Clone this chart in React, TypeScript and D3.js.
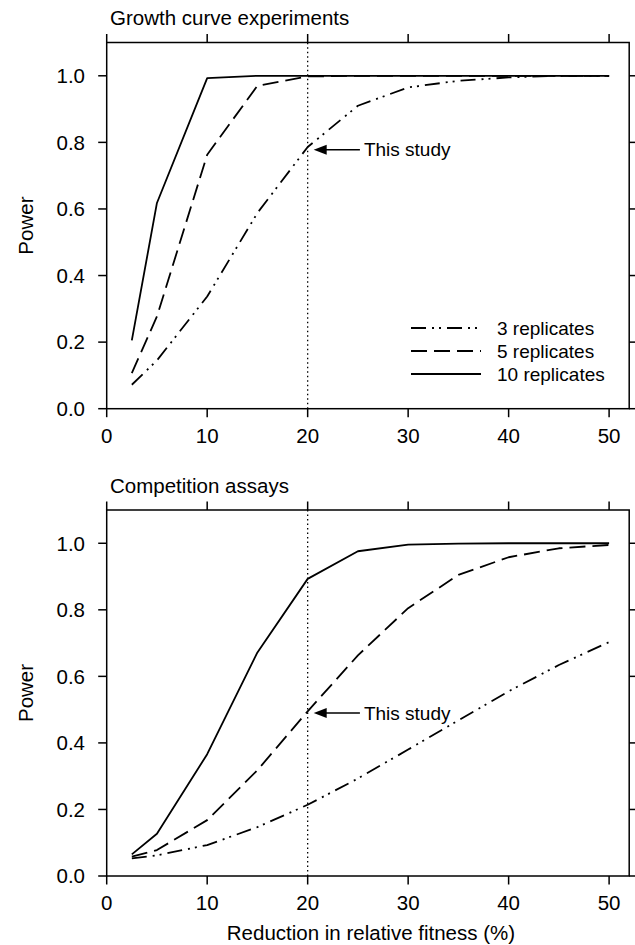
import * as d3 from "d3";

// x values shared by every curve (% reduction in relative fitness)
const fitnessReduction = [2.5, 5, 10, 15, 20, 25, 30, 35, 40, 45, 50];

// Growth curve experiments
const growth3 = [0.072, 0.145, 0.337, 0.588, 0.786, 0.91, 0.965, 0.985, 0.995, 1.0, 1.0];
const growth5 = [0.107, 0.277, 0.763, 0.97, 0.998, 1.0, 1.0, 1.0, 1.0, 1.0, 1.0];
const growth10 = [0.205, 0.618, 0.993, 1.0, 1.0, 1.0, 1.0, 1.0, 1.0, 1.0, 1.0];

// Competition assays
const comp3 = [0.053, 0.062, 0.093, 0.147, 0.214, 0.293, 0.38, 0.468, 0.555, 0.634, 0.703];
const comp5 = [0.058, 0.078, 0.168, 0.318, 0.495, 0.663, 0.805, 0.905, 0.958, 0.985, 0.995];
const comp10 = [0.065, 0.127, 0.366, 0.672, 0.893, 0.976, 0.996, 0.999, 1.0, 1.0, 1.0];

const xTicks = [0, 10, 20, 30, 40, 50];
const yTicks = [0, 0.2, 0.4, 0.6, 0.8, 1.0];

const seriesNames = ["3 replicates", "5 replicates", "10 replicates"];
const dashes = ["15 6 2 5 2 6", "16 7", null];

const FONT = "'Liberation Sans', Arial, Helvetica, sans-serif";
const FS = 20.5; // axis text and titles
const FS_SMALL = 19; // legend and annotation

type PanelProps = {
  title: string;
  series: number[][];
  top: number;
  bottom: number;
  arrowY: number;
  showLegend?: boolean;
  showXLabel?: boolean;
};

function Panel({ title, series, top, bottom, arrowY, showLegend, showXLabel }: PanelProps) {
  const left = 106.7;
  const right = 629.2;
  const x = d3.scaleLinear().domain([0, 52]).range([left, right]);
  const y = d3.scaleLinear().domain([0, 1.1]).range([bottom, top]);

  const line = d3
    .line<number>()
    .x((_, i) => x(fitnessReduction[i]))
    .y((d) => y(d));

  const tick = 8.5;

  return (
    <g fontFamily={FONT} fill="#000">
      <text x={110} y={top - 17.5} fontSize={FS}>{title}</text>

      {/* box */}
      <rect x={left} y={top} width={right - left} height={bottom - top}
        fill="none" stroke="#000" strokeWidth={1.5} />

      {/* x ticks, bottom and top */}
      {xTicks.map((t) => (
        <g key={"x" + t}>
          <line x1={x(t)} x2={x(t)} y1={bottom} y2={bottom + tick} stroke="#000" strokeWidth={1.5} />
          <line x1={x(t)} x2={x(t)} y1={top} y2={top - tick} stroke="#000" strokeWidth={1.5} />
          <text x={x(t)} y={bottom + 34} fontSize={FS} textAnchor="middle">{t}</text>
        </g>
      ))}

      {/* y ticks, left and right */}
      {yTicks.map((t) => (
        <g key={"y" + t}>
          <line x1={left} x2={left - tick} y1={y(t)} y2={y(t)} stroke="#000" strokeWidth={1.5} />
          <line x1={right} x2={right + tick} y1={y(t)} y2={y(t)} stroke="#000" strokeWidth={1.5} />
          <text x={85} y={y(t)} dy="0.36em" fontSize={FS} textAnchor="end">{t.toFixed(1)}</text>
        </g>
      ))}

      <text transform={`translate(33,${(top + bottom) / 2}) rotate(-90)`} fontSize={FS} textAnchor="middle">
        Power
      </text>

      {/* this study */}
      <line x1={x(20)} x2={x(20)} y1={bottom} y2={top} stroke="#000" strokeWidth={1.3} strokeDasharray="1.5 3" />
      <line x1={x(20.6) + 10} x2={x(25.2)} y1={y(arrowY)} y2={y(arrowY)} stroke="#000" strokeWidth={1.5} />
      <path d={`M${x(20.6)},${y(arrowY)} l13,-5 l0,10 z`} fill="#000" />
      <text x={x(25.6)} y={y(arrowY)} dy="0.35em" fontSize={FS_SMALL}>This study</text>

      {series.map((s, i) => (
        <path key={i} d={line(s) ?? ""} fill="none" stroke="#000" strokeWidth={1.8}
          strokeDasharray={dashes[i] ?? undefined} strokeLinejoin="round" />
      ))}

      {showLegend &&
        seriesNames.map((name, i) => {
          const ly = 328 + i * 23;
          return (
            <g key={name}>
              <line x1={411} x2={481} y1={ly} y2={ly} stroke="#000" strokeWidth={1.8}
                strokeDasharray={dashes[i] ?? undefined} />
              <text x={497} y={ly} dy="0.35em" fontSize={FS_SMALL}>{name}</text>
            </g>
          );
        })}

      {showXLabel && (
        <text x={(left + right) / 2 + 3} y={bottom + 64} fontSize={FS} textAnchor="middle">
          Reduction in relative fitness (%)
        </text>
      )}
    </g>
  );
}

export default function App() {
  return (
    <svg width={635} height={945} style={{ position: "absolute", left: 0, top: 0, background: "#fff" }}>
      <rect width={635} height={945} fill="#fff" />
      <Panel title="Growth curve experiments" series={[growth3, growth5, growth10]}
        top={42.5} bottom={408.7} arrowY={0.778} showLegend />
      <Panel title="Competition assays" series={[comp3, comp5, comp10]}
        top={510} bottom={876} arrowY={0.49} showXLabel />
    </svg>
  );
}
